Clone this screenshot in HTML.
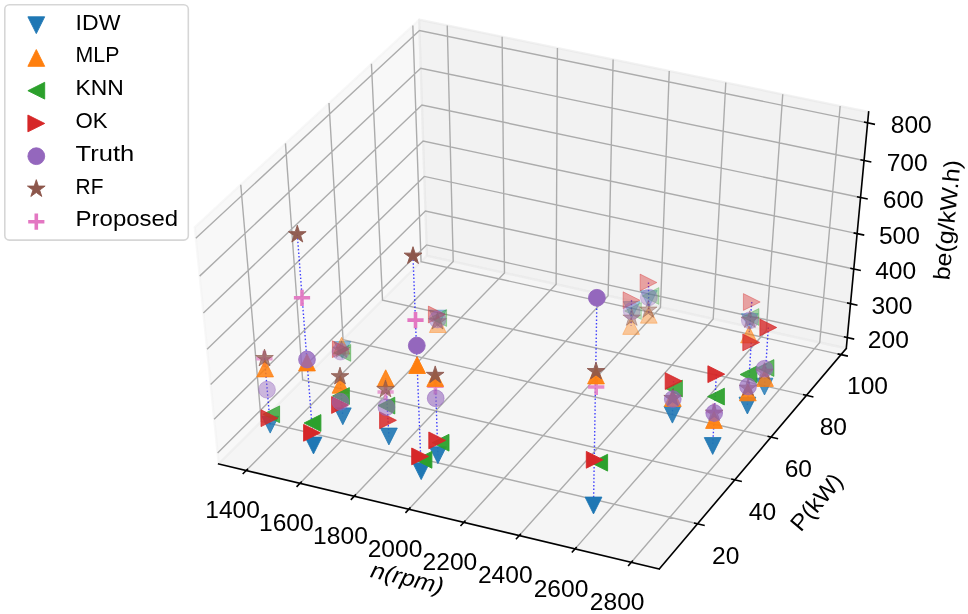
<!DOCTYPE html>
<html><head><meta charset="utf-8"><style>
html,body{margin:0;padding:0;background:#fff;}
svg{display:block;will-change:transform;}
text{font-family:"Liberation Sans", sans-serif;fill:#000;}
</style></head><body>
<svg width="968" height="614" viewBox="0 0 968 614">
<rect width="968" height="614" fill="#fff"/>
<polygon points="218.67,463.92 426.92,255.77 419.12,19.69 194.69,227.32" fill="rgb(242,242,242)" fill-opacity="0.5" stroke="rgb(242,242,242)" stroke-opacity="0.5" stroke-width="2.20" stroke-linejoin="round"/>
<polygon points="426.92,255.77 846.28,348.42 868.64,111.88 419.12,19.69" fill="rgb(230,230,230)" fill-opacity="0.5" stroke="rgb(230,230,230)" stroke-opacity="0.5" stroke-width="2.20" stroke-linejoin="round"/>
<polygon points="218.67,463.92 659.24,568.92 846.28,348.42 426.92,255.77" fill="rgb(236,236,236)" fill-opacity="0.5" stroke="rgb(236,236,236)" stroke-opacity="0.5" stroke-width="2.20" stroke-linejoin="round"/>
<path d="M246.24,470.49 L453.21,261.58 L447.24,25.45 M300.04,483.31 L504.48,272.91 L502.13,36.71 M354.23,496.23 L556.12,284.31 L557.42,48.05 M408.83,509.24 L608.11,295.80 L613.12,59.47 M463.83,522.35 L660.46,307.37 L669.24,70.98 M519.24,535.56 L713.19,319.01 L725.78,82.58 M575.07,548.86 L766.28,330.74 L782.75,94.26 M631.32,562.27 L819.75,342.56 L840.15,106.03 M240.75,184.71 L261.26,421.35 L697.55,523.76 M285.44,143.37 L302.65,379.98 L734.75,479.90 M328.99,103.08 L343.06,339.59 L771.04,437.12 M371.44,63.80 L382.52,300.15 L806.46,395.37 M412.83,25.51 L421.06,261.63 L841.02,354.61 M847.30,337.59 L426.56,244.94 L217.58,453.11 M850.51,303.65 L425.44,211.02 L214.14,419.23 M853.79,269.00 L424.30,176.40 L210.63,384.61 M857.13,233.62 L423.13,141.08 L207.05,349.24 M860.55,197.48 L421.94,105.02 L203.38,313.08 M864.04,160.56 L420.73,68.20 L199.63,276.12 M867.61,122.83 L419.48,30.60 L195.80,238.31" fill="none" stroke="#acacac" stroke-width="1.40"/>
<path d="M218.67,463.92 L659.24,568.92 M846.28,348.42 L659.24,568.92 M846.28,348.42 L868.64,111.88" fill="none" stroke="#000" stroke-width="1.60" stroke-linecap="square"/>
<path d="M248.00,468.71 L242.71,474.05 M301.78,481.52 L296.55,486.90 M355.95,494.42 L350.79,499.84 M410.52,507.42 L405.43,512.88 M465.50,520.52 L460.48,526.02 M520.89,533.71 L515.93,539.25 M576.70,547.00 L571.81,552.58 M632.92,560.40 L628.10,566.02 M693.95,522.92 L704.74,525.45 M731.19,479.08 L741.87,481.55 M767.52,436.32 L778.09,438.72 M802.97,394.58 L813.44,396.93 M837.57,353.85 L847.94,356.14 M843.84,336.82 L854.23,339.11 M847.01,302.89 L857.51,305.17 M850.25,268.24 L860.86,270.53 M853.56,232.86 L864.28,235.14 M856.94,196.72 L867.78,199.01 M860.39,159.80 L871.35,162.08 M863.91,122.07 L875.00,124.36" fill="none" stroke="#000" stroke-width="1.60"/>
<text transform="translate(232.61,500.77) scale(1.07,1)" x="0" y="16.87" font-size="23.00" text-anchor="middle">1400</text>
<text transform="translate(286.34,513.69) scale(1.07,1)" x="0" y="16.87" font-size="23.00" text-anchor="middle">1600</text>
<text transform="translate(340.46,526.71) scale(1.07,1)" x="0" y="16.87" font-size="23.00" text-anchor="middle">1800</text>
<text transform="translate(394.99,539.83) scale(1.07,1)" x="0" y="16.87" font-size="23.00" text-anchor="middle">2000</text>
<text transform="translate(449.91,553.04) scale(1.07,1)" x="0" y="16.87" font-size="23.00" text-anchor="middle">2200</text>
<text transform="translate(505.25,566.36) scale(1.07,1)" x="0" y="16.87" font-size="23.00" text-anchor="middle">2400</text>
<text transform="translate(561.01,579.77) scale(1.07,1)" x="0" y="16.87" font-size="23.00" text-anchor="middle">2600</text>
<text transform="translate(617.18,593.28) scale(1.07,1)" x="0" y="16.87" font-size="23.00" text-anchor="middle">2800</text>
<text transform="translate(725.77,546.74) scale(1.07,1)" x="0" y="16.87" font-size="23.00" text-anchor="middle">20</text>
<text transform="translate(762.52,502.73) scale(1.07,1)" x="0" y="16.87" font-size="23.00" text-anchor="middle">40</text>
<text transform="translate(798.37,459.80) scale(1.07,1)" x="0" y="16.87" font-size="23.00" text-anchor="middle">60</text>
<text transform="translate(833.35,417.90) scale(1.07,1)" x="0" y="16.87" font-size="23.00" text-anchor="middle">80</text>
<text transform="translate(867.50,377.00) scale(1.07,1)" x="0" y="16.87" font-size="23.00" text-anchor="middle">100</text>
<text transform="translate(888.34,331.00) scale(1.07,1)" x="0" y="16.87" font-size="23.00" text-anchor="middle">200</text>
<text transform="translate(891.96,297.07) scale(1.07,1)" x="0" y="16.87" font-size="23.00" text-anchor="middle">300</text>
<text transform="translate(895.65,262.42) scale(1.07,1)" x="0" y="16.87" font-size="23.00" text-anchor="middle">400</text>
<text transform="translate(899.42,227.04) scale(1.07,1)" x="0" y="16.87" font-size="23.00" text-anchor="middle">500</text>
<text transform="translate(903.27,190.91) scale(1.07,1)" x="0" y="16.87" font-size="23.00" text-anchor="middle">600</text>
<text transform="translate(907.21,153.99) scale(1.07,1)" x="0" y="16.87" font-size="23.00" text-anchor="middle">700</text>
<text transform="translate(911.23,116.27) scale(1.07,1)" x="0" y="16.87" font-size="23.00" text-anchor="middle">800</text>
<text transform="translate(407.00,579.55) rotate(13.41) scale(1.095,1)" x="0" y="6.13" font-size="23.00" font-style="italic" text-anchor="middle">n(rpm)</text>
<text transform="translate(817.87,503.20) rotate(-49.69) scale(1.05,1)" x="0" y="6.13" font-size="23.00" text-anchor="middle">P(kW)</text>
<text transform="translate(948.70,220.09) rotate(-84.60) scale(1.085,1)" x="0" y="6.13" font-size="23.00" text-anchor="middle">be(g/kW.h)</text>
<path d="M264.50,358.40 L270.20,424.70 M297.30,234.50 L313.50,445.50 M340.00,376.50 L342.80,416.30 M385.70,378.20 L388.90,436.50 M413.00,256.00 L421.20,471.20 M435.20,375.20 L437.90,455.20 M596.90,297.80 L593.50,505.50 M631.50,300.20 L631.10,326.00 M648.50,282.50 L648.80,314.80 M673.60,381.10 L672.40,414.70 M716.30,374.20 L712.70,446.00 M751.20,342.40 L747.40,405.60 M751.80,302.00 L749.00,334.50 M768.30,327.50 L764.50,386.60" stroke="#0000ff" stroke-width="1.4" stroke-dasharray="1.5,2.1" fill="none" opacity="0.75"/>
<path d="M256.30,358.80H272.50M264.40,350.70V366.90" fill="none" stroke="#e377c2" stroke-width="3.60" stroke-opacity="0.700"/>
<path d="M293.90,297.80H310.10M302.00,289.70V305.90" fill="none" stroke="#e377c2" stroke-width="3.60" stroke-opacity="0.950"/>
<path d="M377.50,392.00H393.70M385.60,383.90V400.10" fill="none" stroke="#e377c2" stroke-width="3.60" stroke-opacity="0.700"/>
<path d="M407.40,320.10H423.60M415.50,312.00V328.20" fill="none" stroke="#e377c2" stroke-width="3.60"/>
<path d="M427.30,386.30H443.50M435.40,378.20V394.40" fill="none" stroke="#e377c2" stroke-width="3.60" stroke-opacity="0.800"/>
<path d="M588.10,387.00H604.30M596.20,378.90V395.10" fill="none" stroke="#e377c2" stroke-width="3.60" stroke-opacity="0.850"/>
<path d="M705.90,411.50H722.10M714.00,403.40V419.60" fill="none" stroke="#e377c2" stroke-width="3.60" stroke-opacity="0.800"/>
<polygon points="270.20,433.10 261.80,416.30 278.60,416.30" fill="#1f77b4" stroke="#1f77b4" stroke-width="0.90" stroke-linejoin="miter" fill-opacity="0.850" stroke-opacity="0.850"/>
<polygon points="313.50,453.90 305.10,437.10 321.90,437.10" fill="#1f77b4" stroke="#1f77b4" stroke-width="0.90" stroke-linejoin="miter"/>
<polygon points="342.30,358.40 333.90,341.60 350.70,341.60" fill="#1f77b4" stroke="#1f77b4" stroke-width="0.90" stroke-linejoin="miter" fill-opacity="0.450" stroke-opacity="0.450"/>
<polygon points="342.80,424.70 334.40,407.90 351.20,407.90" fill="#1f77b4" stroke="#1f77b4" stroke-width="0.90" stroke-linejoin="miter" fill-opacity="0.900" stroke-opacity="0.900"/>
<polygon points="388.90,444.90 380.50,428.10 397.30,428.10" fill="#1f77b4" stroke="#1f77b4" stroke-width="0.90" stroke-linejoin="miter" fill-opacity="0.900" stroke-opacity="0.900"/>
<polygon points="421.20,479.60 412.80,462.80 429.60,462.80" fill="#1f77b4" stroke="#1f77b4" stroke-width="0.90" stroke-linejoin="miter"/>
<polygon points="437.80,326.90 429.40,310.10 446.20,310.10" fill="#1f77b4" stroke="#1f77b4" stroke-width="0.90" stroke-linejoin="miter" fill-opacity="0.400" stroke-opacity="0.400"/>
<polygon points="437.90,463.60 429.50,446.80 446.30,446.80" fill="#1f77b4" stroke="#1f77b4" stroke-width="0.90" stroke-linejoin="miter" fill-opacity="0.950" stroke-opacity="0.950"/>
<polygon points="593.50,513.90 585.10,497.10 601.90,497.10" fill="#1f77b4" stroke="#1f77b4" stroke-width="0.90" stroke-linejoin="miter"/>
<polygon points="631.70,318.40 623.30,301.60 640.10,301.60" fill="#1f77b4" stroke="#1f77b4" stroke-width="0.90" stroke-linejoin="miter" fill-opacity="0.350" stroke-opacity="0.350"/>
<polygon points="648.80,307.40 640.40,290.60 657.20,290.60" fill="#1f77b4" stroke="#1f77b4" stroke-width="0.90" stroke-linejoin="miter" fill-opacity="0.350" stroke-opacity="0.350"/>
<polygon points="672.40,423.10 664.00,406.30 680.80,406.30" fill="#1f77b4" stroke="#1f77b4" stroke-width="0.90" stroke-linejoin="miter" fill-opacity="0.900" stroke-opacity="0.900"/>
<polygon points="712.70,454.40 704.30,437.60 721.10,437.60" fill="#1f77b4" stroke="#1f77b4" stroke-width="0.90" stroke-linejoin="miter" fill-opacity="0.950" stroke-opacity="0.950"/>
<polygon points="747.40,414.00 739.00,397.20 755.80,397.20" fill="#1f77b4" stroke="#1f77b4" stroke-width="0.90" stroke-linejoin="miter" fill-opacity="0.900" stroke-opacity="0.900"/>
<polygon points="749.80,330.40 741.40,313.60 758.20,313.60" fill="#1f77b4" stroke="#1f77b4" stroke-width="0.90" stroke-linejoin="miter" fill-opacity="0.400" stroke-opacity="0.400"/>
<polygon points="764.50,395.00 756.10,378.20 772.90,378.20" fill="#1f77b4" stroke="#1f77b4" stroke-width="0.90" stroke-linejoin="miter" fill-opacity="0.800" stroke-opacity="0.800"/>
<polygon points="265.10,360.10 256.70,376.90 273.50,376.90" fill="#ff7f0e" stroke="#ff7f0e" stroke-width="0.90" stroke-linejoin="miter" fill-opacity="0.850" stroke-opacity="0.850"/>
<polygon points="307.00,354.10 298.60,370.90 315.40,370.90" fill="#ff7f0e" stroke="#ff7f0e" stroke-width="0.90" stroke-linejoin="miter"/>
<polygon points="341.60,337.30 333.20,354.10 350.00,354.10" fill="#ff7f0e" stroke="#ff7f0e" stroke-width="0.90" stroke-linejoin="miter" fill-opacity="0.500" stroke-opacity="0.500"/>
<polygon points="340.50,376.40 332.10,393.20 348.90,393.20" fill="#ff7f0e" stroke="#ff7f0e" stroke-width="0.90" stroke-linejoin="miter" fill-opacity="0.900" stroke-opacity="0.900"/>
<polygon points="385.70,369.80 377.30,386.60 394.10,386.60" fill="#ff7f0e" stroke="#ff7f0e" stroke-width="0.90" stroke-linejoin="miter" fill-opacity="0.900" stroke-opacity="0.900"/>
<polygon points="417.10,356.70 408.70,373.50 425.50,373.50" fill="#ff7f0e" stroke="#ff7f0e" stroke-width="0.90" stroke-linejoin="miter"/>
<polygon points="437.80,315.70 429.40,332.50 446.20,332.50" fill="#ff7f0e" stroke="#ff7f0e" stroke-width="0.90" stroke-linejoin="miter" fill-opacity="0.450" stroke-opacity="0.450"/>
<polygon points="435.20,369.80 426.80,386.60 443.60,386.60" fill="#ff7f0e" stroke="#ff7f0e" stroke-width="0.90" stroke-linejoin="miter" fill-opacity="0.950" stroke-opacity="0.950"/>
<polygon points="596.00,367.10 587.60,383.90 604.40,383.90" fill="#ff7f0e" stroke="#ff7f0e" stroke-width="0.90" stroke-linejoin="miter" fill-opacity="0.950" stroke-opacity="0.950"/>
<polygon points="631.10,317.60 622.70,334.40 639.50,334.40" fill="#ff7f0e" stroke="#ff7f0e" stroke-width="0.90" stroke-linejoin="miter" fill-opacity="0.400" stroke-opacity="0.400"/>
<polygon points="648.80,306.40 640.40,323.20 657.20,323.20" fill="#ff7f0e" stroke="#ff7f0e" stroke-width="0.90" stroke-linejoin="miter" fill-opacity="0.400" stroke-opacity="0.400"/>
<polygon points="672.80,389.60 664.40,406.40 681.20,406.40" fill="#ff7f0e" stroke="#ff7f0e" stroke-width="0.90" stroke-linejoin="miter" fill-opacity="0.900" stroke-opacity="0.900"/>
<polygon points="714.00,411.60 705.60,428.40 722.40,428.40" fill="#ff7f0e" stroke="#ff7f0e" stroke-width="0.90" stroke-linejoin="miter" fill-opacity="0.950" stroke-opacity="0.950"/>
<polygon points="747.80,384.00 739.40,400.80 756.20,400.80" fill="#ff7f0e" stroke="#ff7f0e" stroke-width="0.90" stroke-linejoin="miter" fill-opacity="0.900" stroke-opacity="0.900"/>
<polygon points="749.00,326.10 740.60,342.90 757.40,342.90" fill="#ff7f0e" stroke="#ff7f0e" stroke-width="0.90" stroke-linejoin="miter" fill-opacity="0.600" stroke-opacity="0.600"/>
<polygon points="765.00,369.60 756.60,386.40 773.40,386.40" fill="#ff7f0e" stroke="#ff7f0e" stroke-width="0.90" stroke-linejoin="miter" fill-opacity="0.800" stroke-opacity="0.800"/>
<polygon points="262.80,414.30 279.60,405.90 279.60,422.70" fill="#2ca02c" stroke="#2ca02c" stroke-width="0.90" stroke-linejoin="miter" fill-opacity="0.800" stroke-opacity="0.800"/>
<polygon points="304.10,423.00 320.90,414.60 320.90,431.40" fill="#2ca02c" stroke="#2ca02c" stroke-width="0.90" stroke-linejoin="miter"/>
<polygon points="333.90,352.90 350.70,344.50 350.70,361.30" fill="#2ca02c" stroke="#2ca02c" stroke-width="0.90" stroke-linejoin="miter" fill-opacity="0.500" stroke-opacity="0.500"/>
<polygon points="332.60,396.00 349.40,387.60 349.40,404.40" fill="#2ca02c" stroke="#2ca02c" stroke-width="0.90" stroke-linejoin="miter" fill-opacity="0.900" stroke-opacity="0.900"/>
<polygon points="378.00,405.60 394.80,397.20 394.80,414.00" fill="#2ca02c" stroke="#2ca02c" stroke-width="0.90" stroke-linejoin="miter" fill-opacity="0.850" stroke-opacity="0.850"/>
<polygon points="415.10,459.80 431.90,451.40 431.90,468.20" fill="#2ca02c" stroke="#2ca02c" stroke-width="0.90" stroke-linejoin="miter"/>
<polygon points="429.80,318.00 446.60,309.60 446.60,326.40" fill="#2ca02c" stroke="#2ca02c" stroke-width="0.90" stroke-linejoin="miter" fill-opacity="0.400" stroke-opacity="0.400"/>
<polygon points="432.20,442.70 449.00,434.30 449.00,451.10" fill="#2ca02c" stroke="#2ca02c" stroke-width="0.90" stroke-linejoin="miter" fill-opacity="0.950" stroke-opacity="0.950"/>
<polygon points="590.80,462.70 607.60,454.30 607.60,471.10" fill="#2ca02c" stroke="#2ca02c" stroke-width="0.90" stroke-linejoin="miter"/>
<polygon points="624.60,311.00 641.40,302.60 641.40,319.40" fill="#2ca02c" stroke="#2ca02c" stroke-width="0.90" stroke-linejoin="miter" fill-opacity="0.280" stroke-opacity="0.280"/>
<polygon points="642.10,296.00 658.90,287.60 658.90,304.40" fill="#2ca02c" stroke="#2ca02c" stroke-width="0.90" stroke-linejoin="miter" fill-opacity="0.300" stroke-opacity="0.300"/>
<polygon points="665.60,388.50 682.40,380.10 682.40,396.90" fill="#2ca02c" stroke="#2ca02c" stroke-width="0.90" stroke-linejoin="miter" fill-opacity="0.850" stroke-opacity="0.850"/>
<polygon points="707.60,396.60 724.40,388.20 724.40,405.00" fill="#2ca02c" stroke="#2ca02c" stroke-width="0.90" stroke-linejoin="miter" fill-opacity="0.950" stroke-opacity="0.950"/>
<polygon points="740.10,374.50 756.90,366.10 756.90,382.90" fill="#2ca02c" stroke="#2ca02c" stroke-width="0.90" stroke-linejoin="miter" fill-opacity="0.900" stroke-opacity="0.900"/>
<polygon points="742.10,317.00 758.90,308.60 758.90,325.40" fill="#2ca02c" stroke="#2ca02c" stroke-width="0.90" stroke-linejoin="miter" fill-opacity="0.400" stroke-opacity="0.400"/>
<polygon points="757.10,368.00 773.90,359.60 773.90,376.40" fill="#2ca02c" stroke="#2ca02c" stroke-width="0.90" stroke-linejoin="miter" fill-opacity="0.750" stroke-opacity="0.750"/>
<polygon points="277.80,418.20 261.00,409.80 261.00,426.60" fill="#d62728" stroke="#d62728" stroke-width="0.90" stroke-linejoin="miter" fill-opacity="0.850" stroke-opacity="0.850"/>
<polygon points="320.40,432.80 303.60,424.40 303.60,441.20" fill="#d62728" stroke="#d62728" stroke-width="0.90" stroke-linejoin="miter"/>
<polygon points="349.20,349.20 332.40,340.80 332.40,357.60" fill="#d62728" stroke="#d62728" stroke-width="0.90" stroke-linejoin="miter" fill-opacity="0.500" stroke-opacity="0.500"/>
<polygon points="348.40,405.00 331.60,396.60 331.60,413.40" fill="#d62728" stroke="#d62728" stroke-width="0.90" stroke-linejoin="miter" fill-opacity="0.900" stroke-opacity="0.900"/>
<polygon points="396.40,420.30 379.60,411.90 379.60,428.70" fill="#d62728" stroke="#d62728" stroke-width="0.90" stroke-linejoin="miter" fill-opacity="0.850" stroke-opacity="0.850"/>
<polygon points="428.50,456.40 411.70,448.00 411.70,464.80" fill="#d62728" stroke="#d62728" stroke-width="0.90" stroke-linejoin="miter"/>
<polygon points="445.20,314.50 428.40,306.10 428.40,322.90" fill="#d62728" stroke="#d62728" stroke-width="0.90" stroke-linejoin="miter" fill-opacity="0.450" stroke-opacity="0.450"/>
<polygon points="445.60,440.40 428.80,432.00 428.80,448.80" fill="#d62728" stroke="#d62728" stroke-width="0.90" stroke-linejoin="miter" fill-opacity="0.950" stroke-opacity="0.950"/>
<polygon points="603.10,459.80 586.30,451.40 586.30,468.20" fill="#d62728" stroke="#d62728" stroke-width="0.90" stroke-linejoin="miter"/>
<polygon points="639.90,300.20 623.10,291.80 623.10,308.60" fill="#d62728" stroke="#d62728" stroke-width="0.90" stroke-linejoin="miter" fill-opacity="0.400" stroke-opacity="0.400"/>
<polygon points="656.90,282.50 640.10,274.10 640.10,290.90" fill="#d62728" stroke="#d62728" stroke-width="0.90" stroke-linejoin="miter" fill-opacity="0.400" stroke-opacity="0.400"/>
<polygon points="682.00,381.10 665.20,372.70 665.20,389.50" fill="#d62728" stroke="#d62728" stroke-width="0.90" stroke-linejoin="miter" fill-opacity="0.900" stroke-opacity="0.900"/>
<polygon points="724.70,374.20 707.90,365.80 707.90,382.60" fill="#d62728" stroke="#d62728" stroke-width="0.90" stroke-linejoin="miter" fill-opacity="0.950" stroke-opacity="0.950"/>
<polygon points="759.60,342.40 742.80,334.00 742.80,350.80" fill="#d62728" stroke="#d62728" stroke-width="0.90" stroke-linejoin="miter" fill-opacity="0.750" stroke-opacity="0.750"/>
<polygon points="760.20,302.00 743.40,293.60 743.40,310.40" fill="#d62728" stroke="#d62728" stroke-width="0.90" stroke-linejoin="miter" fill-opacity="0.400" stroke-opacity="0.400"/>
<polygon points="776.70,327.50 759.90,319.10 759.90,335.90" fill="#d62728" stroke="#d62728" stroke-width="0.90" stroke-linejoin="miter" fill-opacity="0.800" stroke-opacity="0.800"/>
<polygon points="264.50,349.10 266.59,355.53 273.34,355.53 267.88,359.50 269.97,365.92 264.50,361.95 259.03,365.92 261.12,359.50 255.66,355.53 262.41,355.53" fill="#8c564b" stroke="#8c564b" stroke-width="0.90" stroke-linejoin="round" fill-opacity="0.700" stroke-opacity="0.700"/>
<polygon points="297.30,225.20 299.39,231.63 306.14,231.63 300.68,235.60 302.77,242.02 297.30,238.05 291.83,242.02 293.92,235.60 288.46,231.63 295.21,231.63" fill="#8c564b" stroke="#8c564b" stroke-width="0.90" stroke-linejoin="round" fill-opacity="0.950" stroke-opacity="0.950"/>
<polygon points="341.50,340.70 343.59,347.13 350.34,347.13 344.88,351.10 346.97,357.52 341.50,353.55 336.03,357.52 338.12,351.10 332.66,347.13 339.41,347.13" fill="#8c564b" stroke="#8c564b" stroke-width="0.90" stroke-linejoin="round" fill-opacity="0.400" stroke-opacity="0.400"/>
<polygon points="340.00,367.20 342.09,373.63 348.84,373.63 343.38,377.60 345.47,384.02 340.00,380.05 334.53,384.02 336.62,377.60 331.16,373.63 337.91,373.63" fill="#8c564b" stroke="#8c564b" stroke-width="0.90" stroke-linejoin="round" fill-opacity="0.850" stroke-opacity="0.850"/>
<polygon points="385.50,380.00 387.59,386.43 394.34,386.43 388.88,390.40 390.97,396.82 385.50,392.85 380.03,396.82 382.12,390.40 376.66,386.43 383.41,386.43" fill="#8c564b" stroke="#8c564b" stroke-width="0.90" stroke-linejoin="round" fill-opacity="0.700" stroke-opacity="0.700"/>
<polygon points="413.00,246.70 415.09,253.13 421.84,253.13 416.38,257.10 418.47,263.52 413.00,259.55 407.53,263.52 409.62,257.10 404.16,253.13 410.91,253.13" fill="#8c564b" stroke="#8c564b" stroke-width="0.90" stroke-linejoin="round"/>
<polygon points="437.50,312.20 439.59,318.63 446.34,318.63 440.88,322.60 442.97,329.02 437.50,325.05 432.03,329.02 434.12,322.60 428.66,318.63 435.41,318.63" fill="#8c564b" stroke="#8c564b" stroke-width="0.90" stroke-linejoin="round" fill-opacity="0.500" stroke-opacity="0.500"/>
<polygon points="435.20,365.90 437.29,372.33 444.04,372.33 438.58,376.30 440.67,382.72 435.20,378.75 429.73,382.72 431.82,376.30 426.36,372.33 433.11,372.33" fill="#8c564b" stroke="#8c564b" stroke-width="0.90" stroke-linejoin="round" fill-opacity="0.900" stroke-opacity="0.900"/>
<polygon points="596.00,362.10 598.09,368.53 604.84,368.53 599.38,372.50 601.47,378.92 596.00,374.95 590.53,378.92 592.62,372.50 587.16,368.53 593.91,368.53" fill="#8c564b" stroke="#8c564b" stroke-width="0.90" stroke-linejoin="round" fill-opacity="0.900" stroke-opacity="0.900"/>
<polygon points="631.70,308.60 633.79,315.03 640.54,315.03 635.08,319.00 637.17,325.42 631.70,321.45 626.23,325.42 628.32,319.00 622.86,315.03 629.61,315.03" fill="#8c564b" stroke="#8c564b" stroke-width="0.90" stroke-linejoin="round" fill-opacity="0.450" stroke-opacity="0.450"/>
<polygon points="648.20,300.60 650.29,307.03 657.04,307.03 651.58,311.00 653.67,317.42 648.20,313.45 642.73,317.42 644.82,311.00 639.36,307.03 646.11,307.03" fill="#8c564b" stroke="#8c564b" stroke-width="0.90" stroke-linejoin="round" fill-opacity="0.450" stroke-opacity="0.450"/>
<polygon points="672.70,389.00 674.79,395.43 681.54,395.43 676.08,399.40 678.17,405.82 672.70,401.85 667.23,405.82 669.32,399.40 663.86,395.43 670.61,395.43" fill="#8c564b" stroke="#8c564b" stroke-width="0.90" stroke-linejoin="round" fill-opacity="0.800" stroke-opacity="0.800"/>
<polygon points="714.20,403.70 716.29,410.13 723.04,410.13 717.58,414.10 719.67,420.52 714.20,416.55 708.73,420.52 710.82,414.10 705.36,410.13 712.11,410.13" fill="#8c564b" stroke="#8c564b" stroke-width="0.90" stroke-linejoin="round" fill-opacity="0.700" stroke-opacity="0.700"/>
<polygon points="748.00,378.70 750.09,385.13 756.84,385.13 751.38,389.10 753.47,395.52 748.00,391.55 742.53,395.52 744.62,389.10 739.16,385.13 745.91,385.13" fill="#8c564b" stroke="#8c564b" stroke-width="0.90" stroke-linejoin="round" fill-opacity="0.700" stroke-opacity="0.700"/>
<polygon points="749.80,310.70 751.89,317.13 758.64,317.13 753.18,321.10 755.27,327.52 749.80,323.55 744.33,327.52 746.42,321.10 740.96,317.13 747.71,317.13" fill="#8c564b" stroke="#8c564b" stroke-width="0.90" stroke-linejoin="round" fill-opacity="0.450" stroke-opacity="0.450"/>
<polygon points="764.40,362.70 766.49,369.13 773.24,369.13 767.78,373.10 769.87,379.52 764.40,375.55 758.93,379.52 761.02,373.10 755.56,369.13 762.31,369.13" fill="#8c564b" stroke="#8c564b" stroke-width="0.90" stroke-linejoin="round" fill-opacity="0.600" stroke-opacity="0.600"/>
<circle cx="267.00" cy="389.70" r="8.40" fill="#9467bd" stroke="#9467bd" stroke-width="0.90" fill-opacity="0.450" stroke-opacity="0.450"/>
<circle cx="307.00" cy="359.50" r="8.40" fill="#9467bd" stroke="#9467bd" stroke-width="0.90" fill-opacity="0.800" stroke-opacity="0.800"/>
<circle cx="340.50" cy="351.60" r="8.40" fill="#9467bd" stroke="#9467bd" stroke-width="0.90" fill-opacity="0.400" stroke-opacity="0.400"/>
<circle cx="340.40" cy="401.70" r="8.40" fill="#9467bd" stroke="#9467bd" stroke-width="0.90" fill-opacity="0.550" stroke-opacity="0.550"/>
<circle cx="386.40" cy="407.20" r="8.40" fill="#9467bd" stroke="#9467bd" stroke-width="0.90" fill-opacity="0.550" stroke-opacity="0.550"/>
<circle cx="416.80" cy="345.60" r="8.40" fill="#9467bd" stroke="#9467bd" stroke-width="0.90"/>
<circle cx="437.50" cy="319.50" r="8.40" fill="#9467bd" stroke="#9467bd" stroke-width="0.90" fill-opacity="0.400" stroke-opacity="0.400"/>
<circle cx="435.70" cy="398.30" r="8.40" fill="#9467bd" stroke="#9467bd" stroke-width="0.90" fill-opacity="0.600" stroke-opacity="0.600"/>
<circle cx="596.90" cy="297.80" r="8.40" fill="#9467bd" stroke="#9467bd" stroke-width="0.90"/>
<circle cx="631.70" cy="311.00" r="8.40" fill="#9467bd" stroke="#9467bd" stroke-width="0.90" fill-opacity="0.350" stroke-opacity="0.350"/>
<circle cx="648.80" cy="297.40" r="8.40" fill="#9467bd" stroke="#9467bd" stroke-width="0.90" fill-opacity="0.350" stroke-opacity="0.350"/>
<circle cx="672.80" cy="399.10" r="8.40" fill="#9467bd" stroke="#9467bd" stroke-width="0.90" fill-opacity="0.650" stroke-opacity="0.650"/>
<circle cx="714.20" cy="413.00" r="8.40" fill="#9467bd" stroke="#9467bd" stroke-width="0.90" fill-opacity="0.700" stroke-opacity="0.700"/>
<circle cx="748.00" cy="386.50" r="8.40" fill="#9467bd" stroke="#9467bd" stroke-width="0.90" fill-opacity="0.650" stroke-opacity="0.650"/>
<circle cx="749.80" cy="320.30" r="8.40" fill="#9467bd" stroke="#9467bd" stroke-width="0.90" fill-opacity="0.400" stroke-opacity="0.400"/>
<circle cx="764.40" cy="368.80" r="8.40" fill="#9467bd" stroke="#9467bd" stroke-width="0.90" fill-opacity="0.600" stroke-opacity="0.600"/>
<rect x="4.8" y="4.8" width="183.5" height="235.3" rx="4.5" ry="4.5" fill="#fff" fill-opacity="0.8" stroke="#cccccc" stroke-opacity="0.8" stroke-width="1.6"/>
<polygon points="36.30,33.60 27.90,16.80 44.70,16.80" fill="#1f77b4" stroke="#1f77b4" stroke-width="0.90" stroke-linejoin="miter"/>
<text transform="translate(75.6,29.60) scale(1.04,1)" x="0" y="0" font-size="22.2">IDW</text>
<polygon points="36.30,49.55 27.90,66.35 44.70,66.35" fill="#ff7f0e" stroke="#ff7f0e" stroke-width="0.90" stroke-linejoin="miter"/>
<text transform="translate(75.6,62.40) scale(0.96,1)" x="0" y="0" font-size="22.2">MLP</text>
<polygon points="27.90,90.70 44.70,82.30 44.70,99.10" fill="#2ca02c" stroke="#2ca02c" stroke-width="0.90" stroke-linejoin="miter"/>
<text transform="translate(75.6,95.20) scale(1.03,1)" x="0" y="0" font-size="22.2">KNN</text>
<polygon points="44.70,123.45 27.90,115.05 27.90,131.85" fill="#d62728" stroke="#d62728" stroke-width="0.90" stroke-linejoin="miter"/>
<text transform="translate(75.6,128.00) scale(1.0,1)" x="0" y="0" font-size="22.2">OK</text>
<circle cx="36.30" cy="156.20" r="8.40" fill="#9467bd" stroke="#9467bd" stroke-width="0.90"/>
<text transform="translate(75.6,160.80) scale(1.15,1)" x="0" y="0" font-size="22.2">Truth</text>
<polygon points="36.30,179.65 38.39,186.08 45.14,186.08 39.68,190.05 41.77,196.47 36.30,192.50 30.83,196.47 32.92,190.05 27.46,186.08 34.21,186.08" fill="#8c564b" stroke="#8c564b" stroke-width="0.90" stroke-linejoin="round"/>
<text transform="translate(75.6,193.60) scale(0.94,1)" x="0" y="0" font-size="22.2">RF</text>
<path d="M28.20,221.70H44.40M36.30,213.60V229.80" fill="none" stroke="#e377c2" stroke-width="3.60"/>
<text transform="translate(75.6,226.40) scale(1.08,1)" x="0" y="0" font-size="22.2">Proposed</text>
</svg>
</body></html>
